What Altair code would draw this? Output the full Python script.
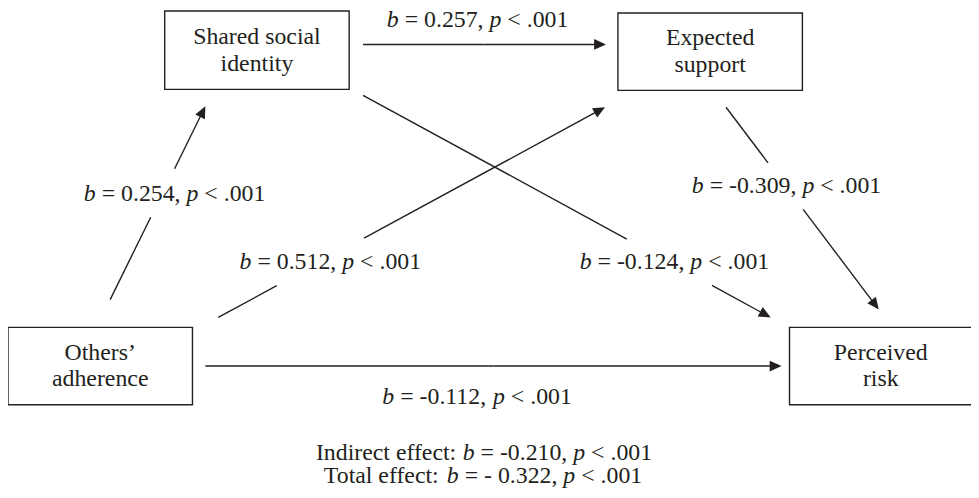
import math
import altair as alt
import pandas as pd

# ---------------- content ----------------
node_labels = ["Shared social\nidentity", "Expected\nsupport", "Others’\nadherence", "Perceived\nrisk"]

edge_b = ["0.257", "0.254", "0.512", "-0.124", "-0.309", "-0.112"]
edge_p = ["< .001", "< .001", "< .001", "< .001", "< .001", "< .001"]

effect_names = ["Indirect effect", "Total effect"]
effect_b = ["-0.210", "- 0.322"]
effect_p = ["< .001", "< .001"]

# ---------------- layout (page pixels) ----------------
box_x0 = [166, 623, 8, 796]
box_x1 = [352, 809, 194, 984]
box_y0 = [9, 11, 328, 328]
box_y1 = [88, 89, 406, 406]
box_text_cx = [259, 716, 101, 888]

edge_x0 = [366, 111, 220, 366, 732, 207]
edge_y0 = [42.7, 300, 318, 94, 106, 367]
edge_x1 = [611, 207, 610, 777, 886, 788]
edge_y1 = [42.7, 105, 106, 318, 310, 367]
gap_t0 = [0.5, 0.426, 0.151, 0.647, 0.275, 0.5]
gap_t1 = [0.5, 0.677, 0.377, 0.856, 0.505, 0.5]

label_cx = [481.5, 176, 333, 680, 793, 481]
label_base = [25, 201, 269, 269, 193, 405]
effect_cx = [488, 487]
effect_base = [462, 485]

FONT = "Liberation Serif"
FS = 24
LH = 27
INK = "#231f20"

# Times New Roman advance widths (per 1000 em), Liberation Serif is metric-compatible
W_ROMAN = {" ": 250, "=": 564, "<": 564, ".": 250, ",": 250, "-": 333, ":": 278,
           "I": 333, "T": 611, "n": 500, "d": 500, "i": 278, "r": 333, "e": 444,
           "c": 444, "t": 278, "f": 333, "o": 500, "a": 444, "l": 278}
W_ITALIC = {"b": 500, "p": 500}


def seg_width(s, style):
    table = W_ITALIC if style == "italic" else W_ROMAN
    return sum(table.get(ch, 500) for ch in s) * FS / 1000.0


def lay_segments(segments, cx, base, rows):
    total = sum(seg_width(s, st) for s, st in segments)
    x = cx - total / 2
    for s, st in segments:
        lead = len(s) - len(s.lstrip(" "))
        rows.append({"x": x + lead * W_ROMAN[" "] * FS / 1000.0, "y": base,
                     "t": s.strip(), "style": st})
        x += seg_width(s, st)


text_rows = []
for b, p, cx, by in zip(edge_b, edge_p, label_cx, label_base):
    lay_segments([("b", "italic"), (f" = {b}, ", "normal"), ("p", "italic"), (f" {p}", "normal")],
                 cx, by, text_rows)
for name, b, p, cx, by in zip(effect_names, effect_b, effect_p, effect_cx, effect_base):
    lay_segments([(f"{name}: ", "normal"), ("b", "italic"), (f" = {b}, ", "normal"),
                  ("p", "italic"), (f" {p}", "normal")], cx, by, text_rows)
text_df = pd.DataFrame(text_rows)

boxes = pd.DataFrame({"x": box_x0, "x2": box_x1, "y": box_y0, "y2": box_y1,
                      "label": node_labels, "cx": box_text_cx})
# first line of a two-line label sits half a line above the box centre
boxes["cy"] = (boxes["y"] + boxes["y2"]) / 2 - LH / 2

seg_rows, head_rows = [], []
HEAD = 6.0
for x0, y0, x1, y1, t0, t1 in zip(edge_x0, edge_y0, edge_x1, edge_y1, gap_t0, gap_t1):
    dx, dy = x1 - x0, y1 - y0
    L = math.hypot(dx, dy)
    ux, uy = dx / L, dy / L
    bx, by = x1 - ux * 2 * HEAD, y1 - uy * 2 * HEAD  # base of arrow head
    seg_rows.append({"x": x0, "y": y0, "x2": x0 + dx * t0, "y2": y0 + dy * t0})
    seg_rows.append({"x": x0 + dx * t1, "y": y0 + dy * t1, "x2": bx + ux, "y2": by + uy})
    head_rows.append({"x": x1 - ux * HEAD, "y": y1 - uy * HEAD,
                      "angle": (math.degrees(math.atan2(dy, dx)) + 360) % 360})
segs = pd.DataFrame(seg_rows)
heads = pd.DataFrame(head_rows)

XS = alt.Scale(domain=[8, 979])
YS = alt.Scale(domain=[8, 498], reverse=True)

rect_layer = alt.Chart(boxes).mark_rect(fill="white", stroke=INK, strokeWidth=1.4, clip=True).encode(
    x=alt.X("x:Q", scale=XS, axis=None), x2="x2:Q",
    y=alt.Y("y:Q", scale=YS, axis=None), y2="y2:Q")

box_text = alt.Chart(boxes).mark_text(font=FONT, fontSize=FS, color=INK, lineBreak="\n",
                                      lineHeight=LH, baseline="middle", align="center").encode(
    x=alt.X("cx:Q", scale=XS, axis=None), y=alt.Y("cy:Q", scale=YS, axis=None), text="label:N")

rule_layer = alt.Chart(segs).mark_rule(color=INK, strokeWidth=1.4).encode(
    x=alt.X("x:Q", scale=XS, axis=None), x2="x2:Q",
    y=alt.Y("y:Q", scale=YS, axis=None), y2="y2:Q")

head_layer = alt.Chart(heads).mark_point(shape="M1,0L-1,-0.9L-1,0.9Z", size=144, filled=True,
                                         color=INK, opacity=1, strokeWidth=0).encode(
    x=alt.X("x:Q", scale=XS, axis=None), y=alt.Y("y:Q", scale=YS, axis=None),
    angle=alt.Angle("angle:Q", scale=None))

roman = alt.Chart(text_df).transform_filter(alt.datum.style == "normal").mark_text(
    font=FONT, fontSize=FS, color=INK, align="left", baseline="alphabetic").encode(
    x=alt.X("x:Q", scale=XS, axis=None), y=alt.Y("y:Q", scale=YS, axis=None), text="t:N")

italic = alt.Chart(text_df).transform_filter(alt.datum.style == "italic").mark_text(
    font=FONT, fontSize=FS, fontStyle="italic", color=INK, align="left", baseline="alphabetic").encode(
    x=alt.X("x:Q", scale=XS, axis=None), y=alt.Y("y:Q", scale=YS, axis=None), text="t:N")

chart = alt.layer(rule_layer, head_layer, rect_layer, box_text, roman, italic).properties(
    width=971, height=490, padding=0, background="white",
    autosize=alt.AutoSizeParams(type="none")
).configure_view(stroke=None)

chart.save("out.html", embed_options={"renderer": "svg", "actions": False})
